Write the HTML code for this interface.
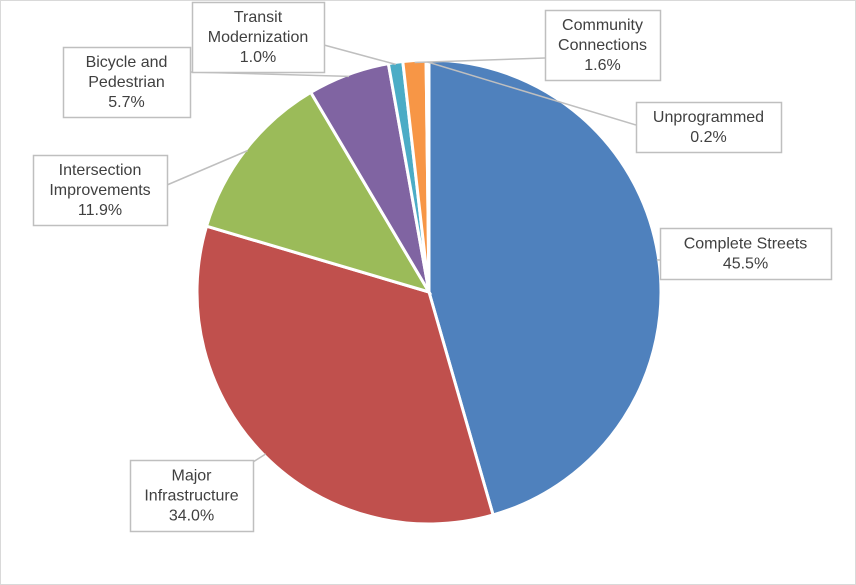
<!DOCTYPE html>
<html><head><meta charset="utf-8"><style>
body{margin:0;background:#fff}
svg{display:block;font-family:"Liberation Sans",sans-serif}
</style></head><body>
<svg width="856" height="585">
<rect x="0.5" y="0.5" width="855" height="584" fill="#fff" stroke="#d9d9d9"/>
<g id="slices"></g>
<g id="labels"></g>
</svg>
<script>
const categories=["Complete Streets","Major Infrastructure","Intersection Improvements","Bicycle and Pedestrian","Transit Modernization","Community Connections","Unprogrammed"];
const values=[45.5,34.0,11.9,5.7,1.0,1.6,0.2];
const valueLabels=["45.5%","34.0%","11.9%","5.7%","1.0%","1.6%","0.2%"];
const colors=["#4F81BD","#C0504D","#9BBB59","#8064A2","#4BACC6","#F79646","#DCE6F2"];
const labelLines=[["Complete Streets"],["Major","Infrastructure"],["Intersection","Improvements"],["Bicycle and","Pedestrian"],["Transit","Modernization"],["Community","Connections"],["Unprogrammed"]];
const boxes=[[660,228,171,51],[130,460,123,71],[33,155,134,70],[63,47,127,70],[192,2,132,70],[545,10,115,70],[636,102,145,50]];
const anchors=[[660,260],[253,462],[167,185],[190,72],[324,45],[545,58],[636,125]];
const cx=429,cy=292,r=232;
const NS="http://www.w3.org/2000/svg";
const total=values.reduce((a,b)=>a+b,0);
const sg=document.getElementById('slices'),lg=document.getElementById('labels');
function pt(a,rr){return [cx+rr*Math.sin(a),cy-rr*Math.cos(a)];}
let start=0;
values.forEach((v,i)=>{
  const ang=v/total*2*Math.PI,end=start+ang;
  const p1=pt(start,r),p2=pt(end,r);
  const p=document.createElementNS(NS,'path');
  p.setAttribute('d',`M${cx},${cy}L${p1[0]},${p1[1]}A${r},${r} 0 ${ang>Math.PI?1:0} 1 ${p2[0]},${p2[1]}Z`);
  p.setAttribute('fill',colors[i]);p.setAttribute('stroke','#fff');p.setAttribute('stroke-width','3');
  
  
  sg.appendChild(p);
  const mid=pt(start+ang/2,r-2);
  const ln=document.createElementNS(NS,'line');
  ln.setAttribute('x1',anchors[i][0]);ln.setAttribute('y1',anchors[i][1]);
  ln.setAttribute('x2',mid[0]);ln.setAttribute('y2',mid[1]);
  ln.setAttribute('stroke','#bfbfbf');ln.setAttribute('stroke-width','1.5');
  
  
  lg.appendChild(ln);
  start=end;
});
values.forEach((v,i)=>{
  const b=boxes[i];
  const g=document.createElementNS(NS,'g');
  
  
  const rc=document.createElementNS(NS,'rect');
  rc.setAttribute('x',b[0]+0.5);rc.setAttribute('y',b[1]+0.5);rc.setAttribute('width',b[2]);rc.setAttribute('height',b[3]);
  rc.setAttribute('fill','#fff');rc.setAttribute('stroke','#bfbfbf');rc.setAttribute('stroke-width','1.5');
  g.appendChild(rc);
  const lines=labelLines[i].concat([valueLabels[i]]);
  const lh=20,y0=b[1]+b[3]/2-(lines.length-1)*lh/2+5;
  lines.forEach((t,k)=>{
    const tx=document.createElementNS(NS,'text');
    tx.setAttribute('x',b[0]+b[2]/2);tx.setAttribute('y',y0+k*lh);
    tx.setAttribute('text-anchor','middle');tx.setAttribute('font-size','16');tx.setAttribute('fill','#404040');
    tx.textContent=t;g.appendChild(tx);
  });
  lg.appendChild(g);
});
</script>
</body></html>
